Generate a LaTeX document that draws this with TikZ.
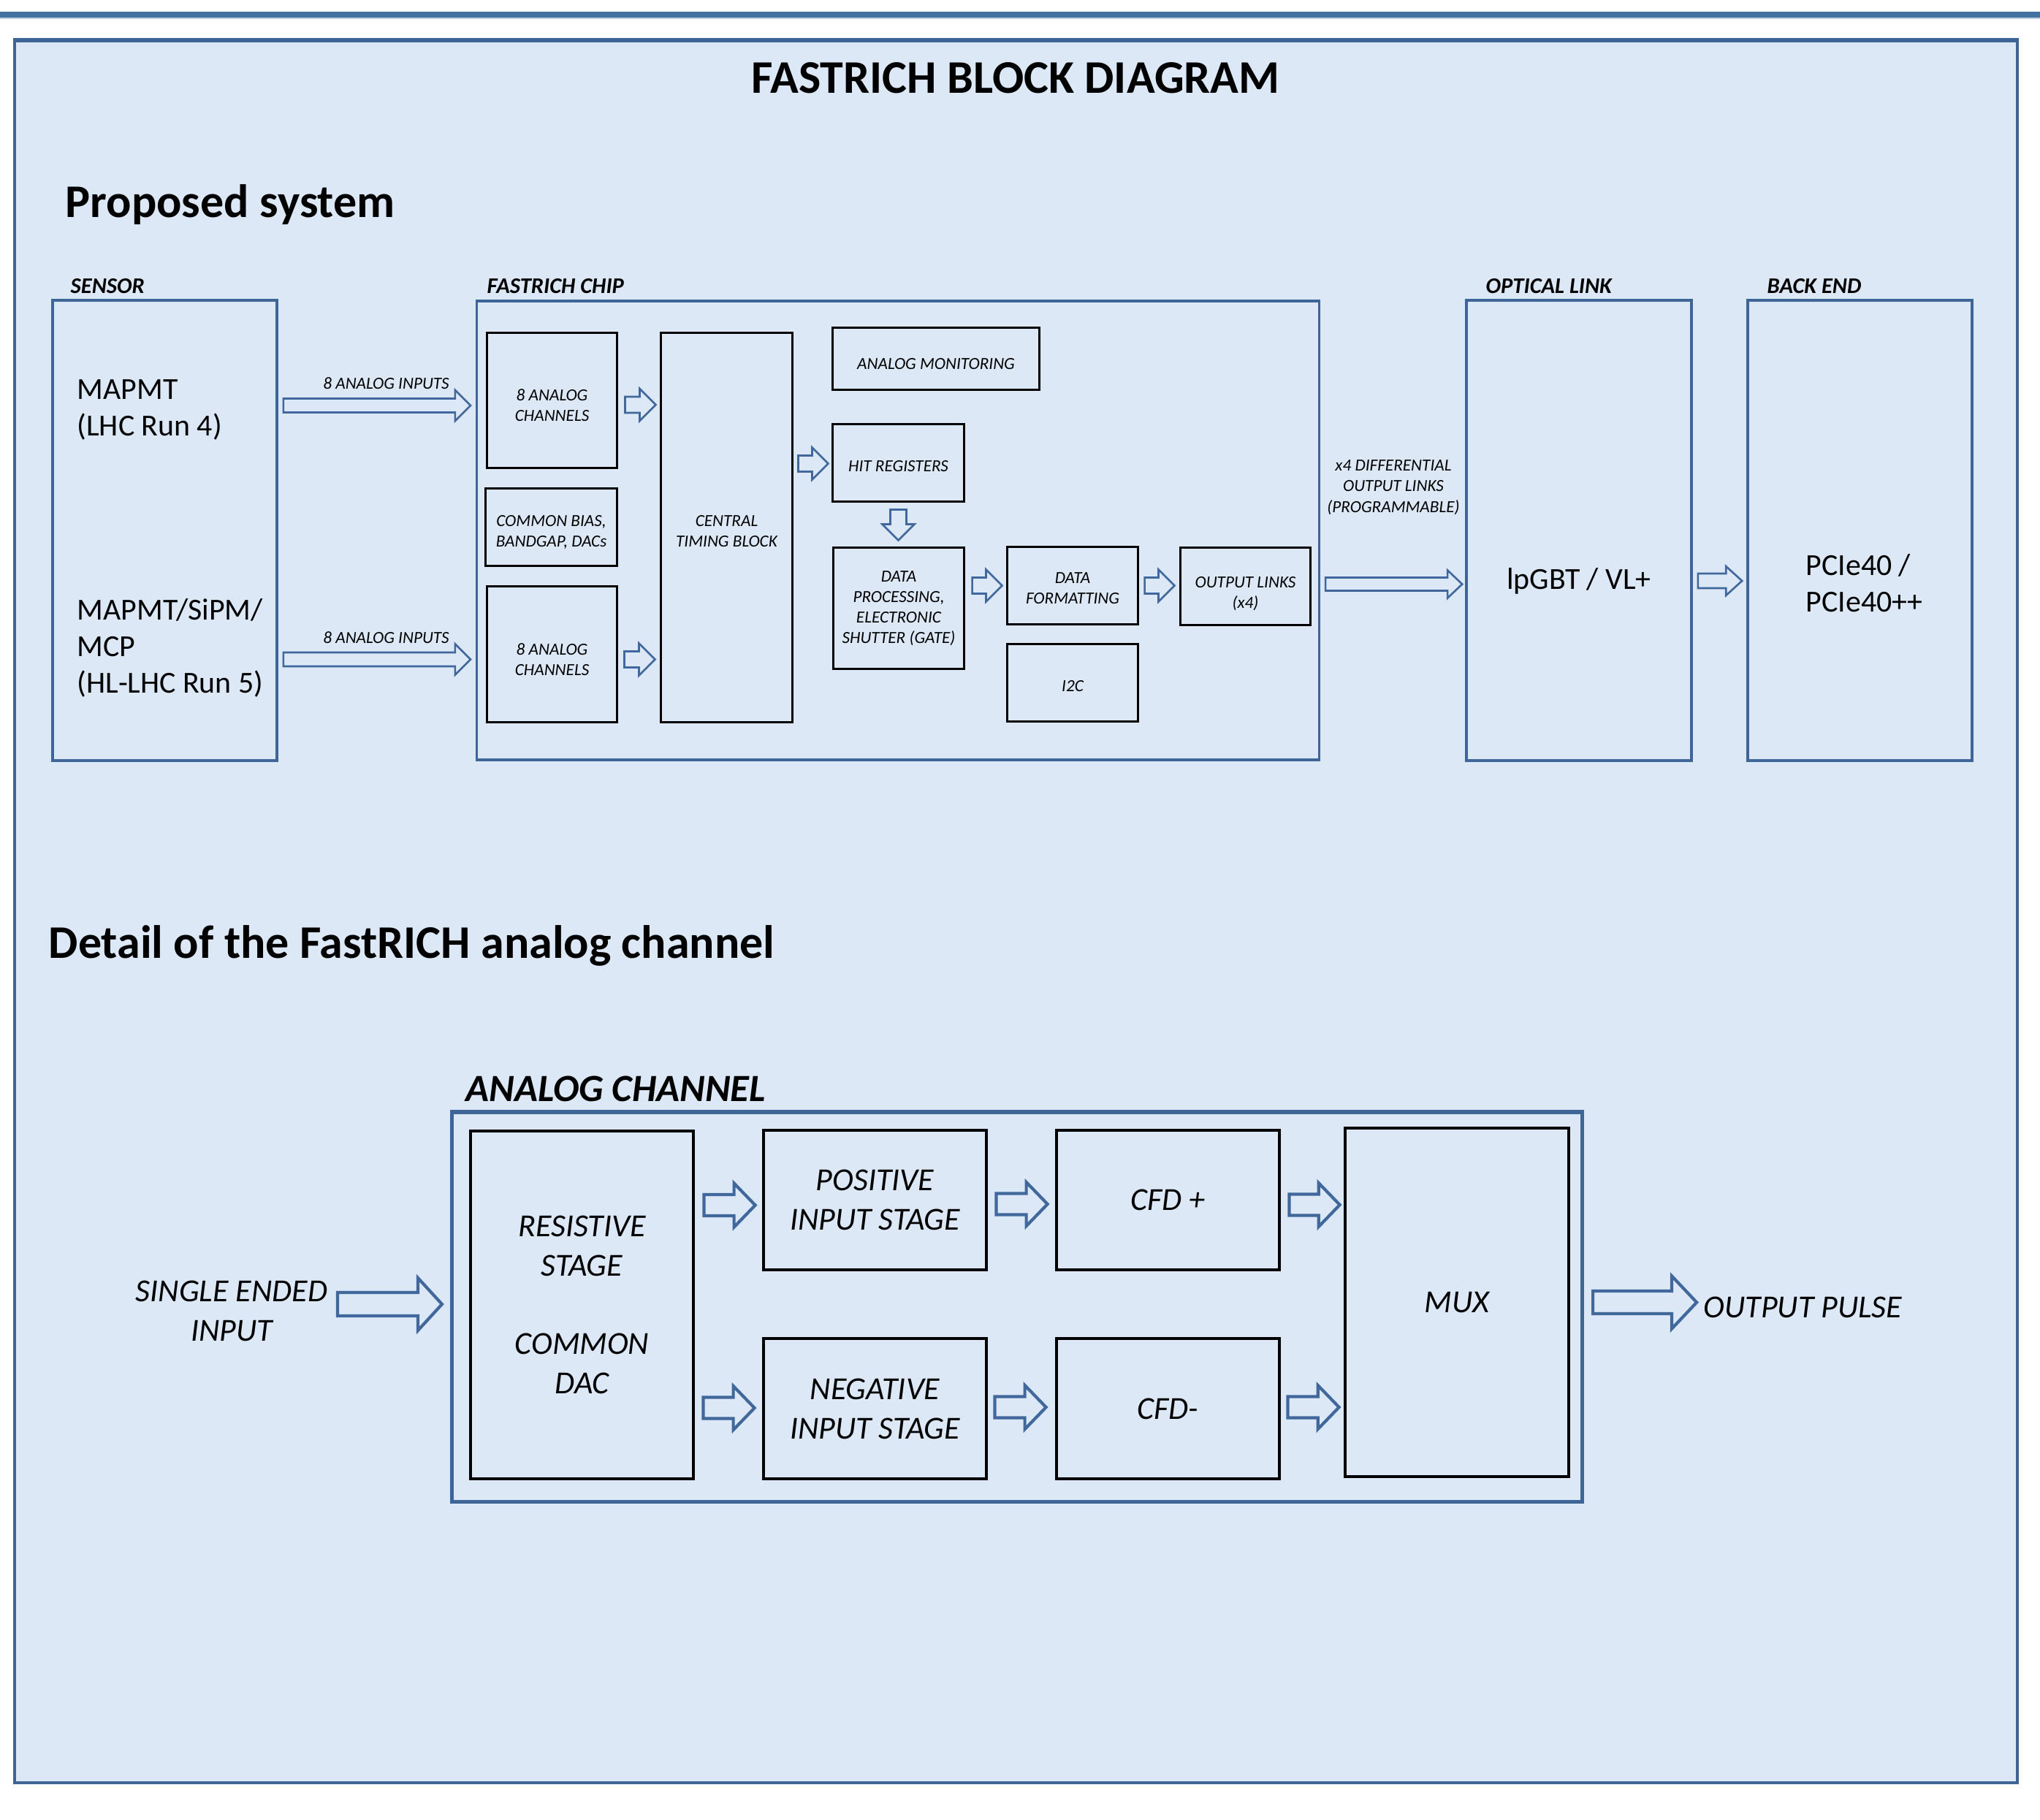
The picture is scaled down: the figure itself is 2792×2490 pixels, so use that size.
\documentclass[tikz,border=0pt]{standalone}
\usepackage{fontspec}
\setmainfont{Carlito}
\usetikzlibrary{calc}
\definecolor{bgblue}{HTML}{DCE8F5}
\definecolor{frameblue}{HTML}{3D6596}
\definecolor{barblue}{HTML}{4472A0}
\definecolor{arrowblue}{HTML}{41689C}
\newcommand{\fsTiny}{\fontsize{6.6}{8}\selectfont}
\newcommand{\fsLab}{\fontsize{8.7}{10.5}\selectfont}
\newcommand{\fsMid}{\fontsize{11.9}{14.2}\selectfont}
\newcommand{\fsBig}{\fontsize{12.5}{15.3}\selectfont}
\newcommand{\fsHead}{\fontsize{18.2}{22}\selectfont}
\newcommand{\fsSub}{\fontsize{15}{18}\selectfont}
% block arrow: [opts]{start}{end}{shaft half width}{head half width}{head length}
\newcommand{\barrow}[6][]{%
  \coordinate (ba-s) at (#2);
  \coordinate (ba-e) at (#3);
  \coordinate (ba-h) at ($(ba-e)!#6!(ba-s)$);
  \draw[blockarrow,#1] ($(ba-s)!#4!90:(ba-e)$) -- ($(ba-h)!#4!-90:(ba-s)$) -- ($(ba-h)!#5!-90:(ba-s)$) -- (ba-e) -- ($(ba-h)!#5!90:(ba-s)$) -- ($(ba-h)!#4!90:(ba-s)$) -- ($(ba-s)!#4!-90:(ba-e)$) -- cycle;}
\tikzset{
  blockarrow/.style={draw=arrowblue, fill=bgblue, line width=0.75pt, line join=miter},
  thickarrow/.style={line width=1.2pt},
  bluebox/.style={draw=frameblue, line width=1pt, inner sep=0},
  chipbox/.style={draw=black, line width=0.85pt, inner sep=0},
  ctext/.style={font=\fsTiny\itshape, align=center, inner sep=0},
  bigbox/.style={draw=black, line width=1.3pt, align=center, font=\fsBig\itshape, inner sep=0},
  seclab/.style={font=\fsLab\bfseries\itshape, anchor=base west, inner sep=0},
  head/.style={font=\fsHead\bfseries, inner sep=0},
  tinylab/.style={font=\fsTiny\itshape, inner sep=0, align=center},
}
\begin{document}
\begin{tikzpicture}[x=0.01cm, y=-0.01cm]
\useasboundingbox[fill=white] (0,0) rectangle (2792,2490);
% top bar
\fill[barblue] (0,16) rectangle (2792,24);
\fill[barblue!35] (0,24) rectangle (2792,26);
% main frame
\node[draw=frameblue, fill=bgblue, line width=1pt, minimum width=273.9mm, minimum height=238.2mm, inner sep=0] (frame) at (1390.5,1248) {};
\draw[frameblue, line width=1.4pt] (frame.north west) -- (frame.north east);
% headings
\node[head, anchor=base] (title) at (1390,127) {FASTRICH BLOCK DIAGRAM};
\node[head, anchor=base west] (prop) at (89,297) {Proposed system};
\node[head, anchor=base west] (detail) at (66,1311) {Detail of the FastRICH analog channel};
% section labels
\node[seclab] (lsensor) at (96,401) {SENSOR};
\node[seclab] (lchip) at (666,401) {FASTRICH CHIP};
\node[seclab] (lopt) at (2033,401) {OPTICAL LINK};
\node[seclab] (lback) at (2418,401) {BACK END};
% big blue boxes
\node[bluebox, minimum width=30.7mm, minimum height=63mm] (sensor) at (225.5,726) {};
\node[bluebox, minimum width=115.2mm, minimum height=62.8mm] (chip) at (1229,726) {};
\node[bluebox, minimum width=30.8mm, minimum height=63mm] (lpgbt) at (2161,726) {};
\node[bluebox, minimum width=30.7mm, minimum height=63mm] (backend) at (2545.5,726) {};
% sensor texts
\node[font=\fsMid, align=left, anchor=west, inner sep=0] (s1) at (105,561) {MAPMT\\(LHC Run 4)};
\node[font=\fsMid, align=left, anchor=west, inner sep=0] (s2) at (105,887) {MAPMT/SiPM/\\MCP\\(HL-LHC Run 5)};
\node[font=\fsMid, inner sep=0] (lptext) at (2161,795) {lpGBT / VL+};
\node[font=\fsMid, align=left, anchor=west, inner sep=0] (petext) at (2471,798) {PCIe40 /\\PCIe40++};
% chip blocks
\node[chipbox, minimum width=17.7mm, minimum height=18.4mm] (ain1) at (755.5,548) {};
\node[chipbox, minimum width=17.9mm, minimum height=10.5mm] (cbias) at (754.5,721.5) {};
\node[chipbox, minimum width=17.7mm, minimum height=18.5mm] (ain2) at (755.5,895.5) {};
\node[chipbox, minimum width=17.9mm, minimum height=53.2mm] (ctb) at (994.5,722) {};
\node[chipbox, minimum width=28.2mm, minimum height=8.4mm] (amon) at (1281,491) {};
\node[chipbox, minimum width=17.9mm, minimum height=10.5mm] (hitreg) at (1229.5,633.5) {};
\node[chipbox, minimum width=17.8mm, minimum height=16.5mm] (dproc) at (1230,832.5) {};
\node[chipbox, minimum width=17.8mm, minimum height=10.5mm] (dfmt) at (1468,801.5) {};
\node[chipbox, minimum width=17.8mm, minimum height=10.5mm] (i2c) at (1468,934.5) {};
\node[chipbox, minimum width=17.7mm, minimum height=10.5mm] (olinks) at (1704.5,802.5) {};
% chip block texts
\node[ctext] (ain1t) at ([yshift=-0.7mm]ain1.center) {8 ANALOG\\CHANNELS};
\node[ctext] (cbiast) at ([yshift=-0.7mm]cbias.center) {COMMON BIAS,\\BANDGAP, DACs};
\node[ctext] (ain2t) at ([yshift=-0.7mm]ain2.center) {8 ANALOG\\CHANNELS};
\node[ctext] (ctbt) at ([yshift=-0.5mm]ctb.center) {CENTRAL\\TIMING BLOCK};
\node[ctext] (amont) at ([yshift=-0.7mm]amon.center) {ANALOG MONITORING};
\node[ctext] (hitregt) at ([yshift=-0.5mm]hitreg.center) {HIT REGISTERS};
\node[ctext] (dproct) at (dproc.center) {DATA\\PROCESSING,\\ELECTRONIC\\SHUTTER (GATE)};
\node[ctext] (dfmtt) at ([yshift=-0.4mm]dfmt.center) {DATA\\FORMATTING};
\node[ctext] (i2ct) at ([yshift=-0.5mm]i2c.center) {I2C};
\node[ctext] (olinkst) at ([yshift=-1.0mm]olinks.center) {OUTPUT LINKS\\(x4)};
% labels on arrows
\node[tinylab, anchor=base] (lin1) at (528.5,532) {8 ANALOG INPUTS};
\node[tinylab, anchor=base] (lin2) at (528.5,880) {8 ANALOG INPUTS};
\node[tinylab] (difflab) at (1907,667) {x4 DIFFERENTIAL\\OUTPUT LINKS\\(PROGRAMMABLE)};
% top arrows
\barrow{$(sensor.east |- ain1.west)+(7,7)$}{$(chip.west |- ain1.west)+(-7,7)$}{0.95mm}{2.1mm}{2.1mm}
\barrow{$(sensor.east |- ain2.west)+(7,7)$}{$(chip.west |- ain2.west)+(-7,7)$}{0.95mm}{2.1mm}{2.1mm}
\barrow{$(ain1.east)+(10,6)$}{$(ctb.west |- ain1.east)+(-6,6)$}{1.1mm}{2.2mm}{2.2mm}
\barrow{$(ain2.east)+(9,7)$}{$(ctb.west |- ain2.east)+(-7,7)$}{1.1mm}{2.2mm}{2.2mm}
\barrow{$(ctb.east |- hitreg.west)+(7,1)$}{$(hitreg.west)+(-5,1)$}{1.1mm}{2.2mm}{2.2mm}
\barrow{$(hitreg.south)+(0,10)$}{$(hitreg.south |- dproc.north)+(0,-9)$}{1.1mm}{2.2mm}{2.2mm}
\barrow{$(dproc.east |- dfmt.west)+(10,0)$}{$(dfmt.west)+(-6,0)$}{1.1mm}{2.2mm}{2.2mm}
\barrow{$(dfmt.east)+(8,0)$}{$(olinks.west |- dfmt.east)+(-7,0)$}{1.1mm}{2.2mm}{2.2mm}
\barrow{$(chip.east |- olinks.east)+(7,-3)$}{$(lpgbt.west |- olinks.east)+(-4,-3)$}{0.9mm}{1.9mm}{2.0mm}
\barrow{$(lpgbt.east |- lptext.east)+(7,0)$}{$(backend.west |- lptext.east)+(-6,0)$}{1.0mm}{2.0mm}{2.2mm}
% ---------- analog channel detail ----------
\node[font=\fsSub\bfseries\itshape, anchor=base west, inner sep=0] (lachan) at (637,1507) {ANALOG CHANNEL};
\node[draw=frameblue, line width=1.5pt, minimum width=154.6mm, minimum height=53.3mm, inner sep=0] (achan) at (1392,1788.5) {};
\node[bigbox, minimum width=30.5mm, minimum height=47.6mm] (res) at (796.5,1786) {RESISTIVE\\STAGE\\\strut\\COMMON\\DAC};
\node[bigbox, minimum width=30.5mm, minimum height=19.1mm] (pos) at (1197.5,1642.5) {POSITIVE\\INPUT STAGE};
\node[bigbox, minimum width=30.5mm, minimum height=19.1mm] (cfdp) at (1598.5,1642.5) {CFD +};
\node[bigbox, minimum width=30.5mm, minimum height=19.2mm] (neg) at (1197.5,1928) {NEGATIVE\\INPUT STAGE};
\node[bigbox, minimum width=30.5mm, minimum height=19.2mm] (cfdn) at (1598.5,1928) {CFD-};
\node[bigbox, minimum width=30.6mm, minimum height=47.7mm] (mux) at (1994,1782.5) {MUX};
\node[font=\fsBig\itshape, align=center, inner sep=0] (intext) at (317,1794) {SINGLE ENDED\\INPUT};
\node[font=\fsBig\itshape, anchor=west, inner sep=0] (outtext) at (2331,1789) {OUTPUT PULSE};
% bottom arrows
\barrow[thickarrow]{$(achan.west)+(-154,-3.5)$}{$(achan.west)+(-11,-3.5)$}{1.6mm}{3.6mm}{3.3mm}
\barrow[thickarrow]{$(res.east |- pos.west)+(12,7)$}{$(pos.west)+(-9,7)$}{1.45mm}{3.0mm}{2.9mm}
\barrow[thickarrow]{$(res.east |- neg.west)+(11,-1)$}{$(neg.west)+(-10,-1)$}{1.45mm}{3.0mm}{2.9mm}
\barrow[thickarrow]{$(pos.east)+(11,5.5)$}{$(cfdp.west)+(-10,5.5)$}{1.45mm}{3.0mm}{2.9mm}
\barrow[thickarrow]{$(neg.east)+(9,-2)$}{$(cfdn.west)+(-12,-2)$}{1.45mm}{3.0mm}{2.9mm}
\barrow[thickarrow]{$(cfdp.east)+(11,6.5)$}{$(mux.west |- cfdp.east)+(-5,6.5)$}{1.45mm}{3.0mm}{2.9mm}
\barrow[thickarrow]{$(cfdn.east)+(9,-2)$}{$(mux.west |- cfdn.east)+(-6,-2)$}{1.45mm}{3.0mm}{2.9mm}
\barrow[thickarrow]{$(achan.east |- mux.east)+(12,0)$}{$(achan.east |- mux.east)+(154,0)$}{1.55mm}{3.6mm}{3.4mm}
\end{tikzpicture}
\end{document}
